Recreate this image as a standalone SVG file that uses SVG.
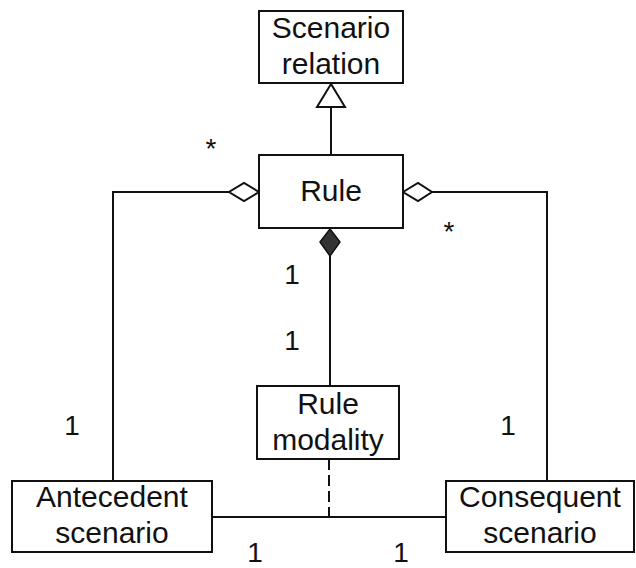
<svg xmlns="http://www.w3.org/2000/svg" width="636" height="568" viewBox="0 0 636 568">
  <style>
    .box { fill: #ffffff; stroke: #111111; stroke-width: 2; }
    .lbl { font-family: "Liberation Sans", Arial, sans-serif; font-size: 30px; fill: #111111; text-anchor: middle; }
    .mult { font-family: "Liberation Sans", Arial, sans-serif; font-size: 28px; fill: #111111; text-anchor: middle; }
    .line { fill: none; stroke: #111111; stroke-width: 2; }
  </style>
  <rect width="636" height="568" fill="#ffffff"/>

  <!-- connectors -->
  <g id="connectors">
    <!-- generalization Rule -> Scenario relation -->
    <line class="line" x1="331" y1="107" x2="331" y2="155"/>
    <polygon points="331,84 317,107 345,107" fill="#ffffff" stroke="#111111" stroke-width="2"/>
    <!-- aggregation Rule <> Antecedent scenario -->
    <polyline class="line" points="229,192 113,192 113,481"/>
    <polygon points="259,192 244,183 229,192 244,201" fill="#ffffff" stroke="#111111" stroke-width="2"/>
    <!-- aggregation Rule <> Consequent scenario -->
    <polyline class="line" points="432,192 547,192 547,481"/>
    <polygon points="403,192 418,183 432,192 418,201" fill="#ffffff" stroke="#111111" stroke-width="2"/>
    <!-- composition Rule <*> Rule modality -->
    <line class="line" x1="330" y1="256" x2="330" y2="386"/>
    <polygon points="330,229 340,242 330,256 320,242" fill="#333333" stroke="#111111" stroke-width="1.5"/>
    <!-- association Antecedent - Consequent with class Rule modality -->
    <line class="line" x1="212" y1="517" x2="446" y2="517"/>
    <line class="line" x1="329" y1="459" x2="329" y2="517" stroke-dasharray="11 5"/>
  </g>

  <g id="scenario-relation">
    <rect class="box" x="259" y="11" width="144" height="72"/>
    <text class="lbl" x="331" y="38">Scenario</text>
    <text class="lbl" x="331" y="74">relation</text>
  </g>

  <g id="rule">
    <rect class="box" x="259" y="155" width="144" height="73"/>
    <text class="lbl" x="331" y="201">Rule</text>
  </g>

  <g id="rule-modality">
    <rect class="box" x="257" y="386" width="142" height="73"/>
    <text class="lbl" x="328" y="414">Rule</text>
    <text class="lbl" x="328" y="450">modality</text>
  </g>

  <g id="antecedent-scenario">
    <rect class="box" x="12" y="481" width="200" height="71"/>
    <text class="lbl" x="112" y="507">Antecedent</text>
    <text class="lbl" x="112" y="543">scenario</text>
  </g>

  <g id="consequent-scenario">
    <rect class="box" x="446" y="481" width="188" height="71"/>
    <text class="lbl" x="540" y="507">Consequent</text>
    <text class="lbl" x="540" y="543">scenario</text>
  </g>

  <!-- multiplicities -->
  <g id="multiplicities">
    <text class="mult" x="211" y="158">*</text>
    <text class="mult" x="449" y="241">*</text>
    <text class="mult" x="292" y="284">1</text>
    <text class="mult" x="292" y="350">1</text>
    <text class="mult" x="72" y="435">1</text>
    <text class="mult" x="508" y="435">1</text>
    <text class="mult" x="255" y="562">1</text>
    <text class="mult" x="401" y="562">1</text>
  </g>
</svg>
